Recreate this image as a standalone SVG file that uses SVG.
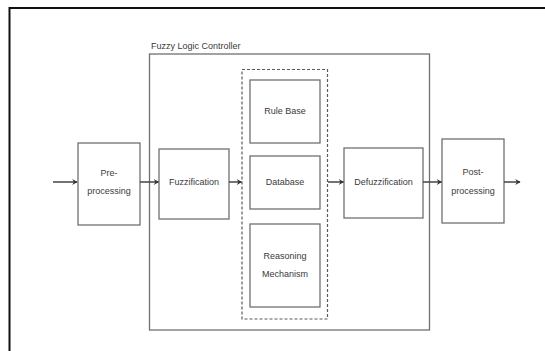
<svg xmlns="http://www.w3.org/2000/svg" width="545" height="351" viewBox="0 0 545 351">
<style>
.box{fill:#fff;stroke:#707070;stroke-width:1.3}
.dash{fill:none;stroke:#5a5a5a;stroke-width:1.2;stroke-dasharray:3 2}
.t{font-family:"Liberation Sans",Arial,sans-serif;font-size:9px;fill:#3a3a3a;text-anchor:middle}
.c{stroke:#444;stroke-width:1.5;fill:none;marker-end:url(#ah)}
</style>
<defs>
<marker id="ah" viewBox="0 0 10 10" refX="9" refY="5" markerWidth="6" markerHeight="6" orient="auto" markerUnits="userSpaceOnUse">
<path d="M1,0 L10,5 L1,10 L4,5 Z" fill="#333"/>
</marker>
</defs>
<rect width="545" height="351" fill="#fff"/>
<rect x="9.5" y="8" width="545" height="360" fill="none" stroke="#111" stroke-width="2"/>
<g id="flc">
<rect class="box" x="149.5" y="54" width="280" height="276"/>
<text x="151" y="49" font-family="Liberation Sans,Arial,sans-serif" font-size="9" fill="#3a3a3a">Fuzzy Logic Controller</text>
</g>
<g id="kb">
<rect class="dash" x="242" y="69.5" width="85.5" height="249.5"/>
</g>
<g id="pre">
<rect class="box" x="78" y="143" width="62" height="82"/>
<text class="t" x="109" y="176">Pre-</text>
<text class="t" x="109" y="194">processing</text>
</g>
<g id="fuzz">
<rect class="box" x="159" y="149" width="70" height="70"/>
<text class="t" x="194" y="185">Fuzzification</text>
</g>
<g id="rule">
<rect class="box" x="250" y="80" width="70" height="63"/>
<text class="t" x="285" y="114">Rule Base</text>
</g>
<g id="db">
<rect class="box" x="250" y="156" width="70" height="53"/>
<text class="t" x="285" y="185">Database</text>
</g>
<g id="reason">
<rect class="box" x="250" y="224" width="70" height="83"/>
<text class="t" x="285" y="259">Reasoning</text>
<text class="t" x="285" y="277">Mechanism</text>
</g>
<g id="defuzz">
<rect class="box" x="344" y="148" width="79" height="70"/>
<text class="t" x="383.5" y="185">Defuzzification</text>
</g>
<g id="post">
<rect class="box" x="442" y="139" width="62" height="84"/>
<text class="t" x="473" y="175">Post-</text>
<text class="t" x="473" y="194">processing</text>
</g>
<g id="connectors">
<line class="c" x1="53" y1="182" x2="77" y2="182"/>
<line class="c" x1="140" y1="182" x2="158.5" y2="182"/>
<line class="c" x1="229" y1="182" x2="241.5" y2="182"/>
<line class="c" x1="328" y1="182" x2="343.5" y2="182"/>
<line class="c" x1="423" y1="182" x2="441.5" y2="182"/>
<line class="c" x1="504" y1="182" x2="520" y2="182"/>
</g>
</svg>
